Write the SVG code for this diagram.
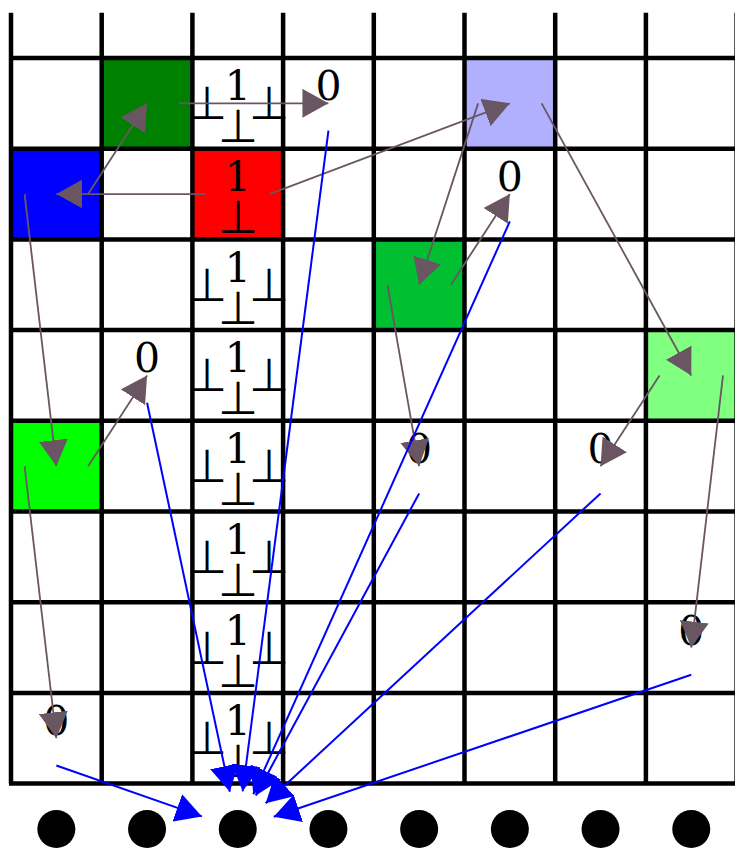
<svg xmlns="http://www.w3.org/2000/svg" width="735" height="848" viewBox="0 0 735 848">
<style>
.grid{stroke:#000;stroke-width:4.5;fill:none}
.d{font-family:"DejaVu Serif","Liberation Serif",serif;font-size:41px;fill:#000;text-anchor:middle}
.t{font-family:"DejaVu Sans","Liberation Sans",sans-serif;font-weight:200;font-size:46px;fill:#000;text-anchor:middle}
.br{stroke:#6a5662;stroke-width:1.8;fill:none;marker-end:url(#ab)}
.bl{stroke:#0000ff;stroke-width:2;fill:none;marker-end:url(#au)}
</style>
<defs>
<marker id="ab" viewBox="0 0 26 29" refX="26" refY="14.5" markerWidth="26" markerHeight="29" markerUnits="userSpaceOnUse" orient="auto"><path d="M0,0 L26,14.5 L0,29 Z" fill="#6a5662"/></marker>
<marker id="au" viewBox="0 0 26 29" refX="26" refY="14.5" markerWidth="26" markerHeight="29" markerUnits="userSpaceOnUse" orient="auto"><path d="M0,0 L26,14.5 L0,29 Z" fill="#0000ff"/></marker>
</defs>
<rect width="735" height="848" fill="#fff"/>
<g id="cells">
<rect id="cell-green" x="101.7" y="58" width="90.7" height="90.7" fill="#008000"/>
<rect id="cell-lightblue" x="464.5" y="58" width="90.7" height="90.7" fill="#b0b0ff"/>
<rect id="cell-blue" x="11" y="148.7" width="90.7" height="90.7" fill="#0000ff"/>
<rect id="cell-red" x="192.4" y="148.7" width="90.7" height="90.7" fill="#ff0000"/>
<rect id="cell-medgreen" x="373.8" y="239.4" width="90.7" height="90.7" fill="#00c032"/>
<rect id="cell-lightgreen" x="645.9" y="330.1" width="90.7" height="90.7" fill="#80ff80"/>
<rect id="cell-lime" x="11" y="420.8" width="90.7" height="90.7" fill="#00ff00"/>
</g>
<g id="labels">
<g id="tree-r1"><text class="d" x="237.75" y="100.35">1</text><text class="t" x="206.75" y="119.35">⊥</text><text class="t" x="268.75" y="119.35">⊥</text><text class="t" x="237.75" y="142.35">⊥</text></g>
<g id="tree-r2"><text class="d" x="237.75" y="191.05">1</text><text class="t" x="237.75" y="233.05">⊥</text></g>
<g id="tree-r3"><text class="d" x="237.75" y="281.75">1</text><text class="t" x="206.75" y="300.75">⊥</text><text class="t" x="268.75" y="300.75">⊥</text><text class="t" x="237.75" y="323.75">⊥</text></g>
<g id="tree-r4"><text class="d" x="237.75" y="372.45">1</text><text class="t" x="206.75" y="391.45">⊥</text><text class="t" x="268.75" y="391.45">⊥</text><text class="t" x="237.75" y="414.45">⊥</text></g>
<g id="tree-r5"><text class="d" x="237.75" y="463.15">1</text><text class="t" x="206.75" y="482.15">⊥</text><text class="t" x="268.75" y="482.15">⊥</text><text class="t" x="237.75" y="505.15">⊥</text></g>
<g id="tree-r6"><text class="d" x="237.75" y="553.85">1</text><text class="t" x="206.75" y="572.85">⊥</text><text class="t" x="268.75" y="572.85">⊥</text><text class="t" x="237.75" y="595.85">⊥</text></g>
<g id="tree-r7"><text class="d" x="237.75" y="644.55">1</text><text class="t" x="206.75" y="663.55">⊥</text><text class="t" x="268.75" y="663.55">⊥</text><text class="t" x="237.75" y="686.55">⊥</text></g>
<g id="tree-r8"><text class="d" x="237.75" y="735.25">1</text><text class="t" x="206.75" y="754.25">⊥</text><text class="t" x="268.75" y="754.25">⊥</text><text class="t" x="237.75" y="777.25">⊥</text></g>
<text id="z1" class="d" x="328.45" y="100.35">0</text>
<text id="z2" class="d" x="509.85" y="191.05">0</text>
<text id="z3" class="d" x="147.05" y="372.45">0</text>
<text id="z4" class="d" x="419.15" y="463.15">0</text>
<text id="z5" class="d" x="600.55" y="463.15">0</text>
<text id="z6" class="d" x="691.25" y="644.55">0</text>
<text id="z7" class="d" x="56.35" y="735.25">0</text>
</g>
<g id="grid">
<path class="grid" d="M11,12.65V783.6 M101.7,12.65V783.6 M192.4,12.65V783.6 M283.1,12.65V783.6 M373.8,12.65V783.6 M464.5,12.65V783.6 M555.2,12.65V783.6 M645.9,12.65V783.6 M736.6,12.65V783.6 M11,58H736.6 M11,148.7H736.6 M11,239.4H736.6 M11,330.1H736.6 M11,420.8H736.6 M11,511.5H736.6 M11,602.2H736.6 M11,692.9H736.6 M9,783.6H736.6"/>
</g>
<g id="dots" fill="#000">
<circle id="dot0" cx="56.35" cy="828.95" r="19"/>
<circle id="dot1" cx="147.05" cy="828.95" r="19"/>
<circle id="dot2" cx="237.75" cy="828.95" r="19"/>
<circle id="dot3" cx="328.45" cy="828.95" r="19"/>
<circle id="dot4" cx="419.15" cy="828.95" r="19"/>
<circle id="dot5" cx="509.85" cy="828.95" r="19"/>
<circle id="dot6" cx="600.55" cy="828.95" r="19"/>
<circle id="dot7" cx="691.25" cy="828.95" r="19"/>
</g>
<g id="connectors">
<line class="br" x1="178.8" y1="103.35" x2="328.45" y2="103.35"/>
<line class="br" x1="206" y1="194.05" x2="56.35" y2="194.05"/>
<line class="br" x1="88.1" y1="194.05" x2="147.05" y2="103.35"/>
<line class="br" x1="269.5" y1="194.05" x2="509.85" y2="103.35"/>
<line class="br" x1="478.1" y1="103.35" x2="419.15" y2="284.75"/>
<line class="br" x1="450.9" y1="284.75" x2="509.85" y2="194.05"/>
<line class="br" x1="541.6" y1="103.35" x2="691.25" y2="375.45"/>
<line class="br" x1="24.6" y1="194.05" x2="56.35" y2="466.15"/>
<line class="br" x1="88.1" y1="466.15" x2="147.05" y2="375.45"/>
<line class="br" x1="387.4" y1="284.75" x2="419.15" y2="466.15"/>
<line class="br" x1="659.5" y1="375.45" x2="600.55" y2="466.15"/>
<line class="br" x1="723" y1="375.45" x2="691.25" y2="647.55"/>
<line class="br" x1="24.6" y1="466.15" x2="56.35" y2="738.25"/>
<line class="bl" x1="328.45" y1="130.6" x2="242.64" y2="791.27"/>
<line class="bl" x1="509.85" y1="221.3" x2="253.28" y2="794.27"/>
<line class="bl" x1="147.05" y1="402.7" x2="229.84" y2="791.78"/>
<line class="bl" x1="419.15" y1="493.4" x2="255.82" y2="795.52"/>
<line class="bl" x1="600.55" y1="493.4" x2="265.65" y2="803.15"/>
<line class="bl" x1="691.25" y1="674.8" x2="273.73" y2="816.72"/>
<line class="bl" x1="56.35" y1="765.5" x2="201.89" y2="816.41"/>
</g>
</svg>
